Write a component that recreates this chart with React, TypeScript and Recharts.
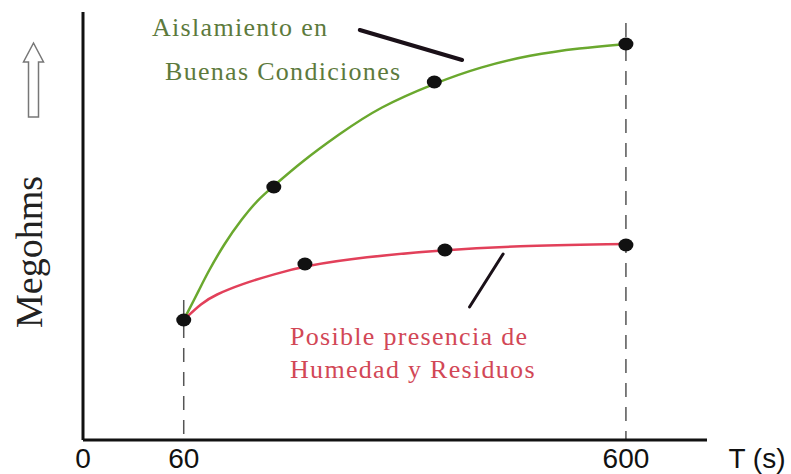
import React from "react";
import {
  ComposedChart,
  Line,
  Scatter,
  XAxis,
  YAxis,
  ReferenceLine,
} from "recharts";

// time axis: the origin of the drawn axis is labelled "0"
const T_ORIGIN = -63;
const T_MAX = 699;
const M_TOP = 428;
const xTicks = [T_ORIGIN, 60, 600];
const xTickLabels = ["0", "60", "600"];

// curve traces (T in s, arbitrary megohm units)
const greenT = [60, 80, 89, 110, 131, 150, 170, 202, 250, 299, 367, 422, 483, 544, 600];
const greenM = [120, 152, 167, 197, 221, 240, 254, 277, 306, 333, 357, 373, 385, 392, 396];
const redT = [60, 82, 98, 131, 171, 208, 279, 379, 462, 600];
const redM = [120, 137, 145, 156, 166, 174, 183, 190, 194, 196];

// black measurement dots
const markT = [60, 170, 366, 600, 208, 379, 600];
const markM = [120, 253, 358, 396, 176, 190, 195];

const greenData = greenT.map((t, i) => ({ t, m: greenM[i] }));
const redData = redT.map((t, i) => ({ t, m: redM[i] }));
const markData = markT.map((t, i) => ({ t, m: markM[i] }));

const GREEN_LINE = "#6aa82e";
const GREEN_TEXT = "#5d7a3c";
const RED_LINE = "#e2405a";
const RED_TEXT = "#d24756";
const SERIF = "'Liberation Serif', 'DejaVu Serif', serif";
const SANS = "'Liberation Sans', Arial, sans-serif";

const XTick = (props: any) => {
  const { x, y, payload } = props;
  const idx = xTicks.indexOf(payload.value);
  return (
    <text
      x={x}
      y={y + 20}
      textAnchor="middle"
      fontFamily={SANS}
      fontSize={28}
      fill="#111"
    >
      {xTickLabels[idx]}
    </text>
  );
};

const Dot = (props: any) => (
  <ellipse cx={props.cx} cy={props.cy} rx={7.5} ry={6.5} fill="#111" />
);

const noteStyle = { fontFamily: SERIF, fontSize: 26, letterSpacing: 1.3 };

export default function App() {
  return (
    <div style={{ position: "absolute", left: 0, top: 0, background: "#fff" }}>
      <ComposedChart
        width={791}
        height={474}
        margin={{ top: 12, right: 84, bottom: 4, left: 83 }}
      >
        <XAxis
          type="number"
          dataKey="t"
          domain={[T_ORIGIN, T_MAX]}
          ticks={xTicks}
          interval={0}
          allowDataOverflow
          tickLine={false}
          tick={<XTick />}
          height={30}
          axisLine={{ stroke: "#111", strokeWidth: 3 }}
        />
        <YAxis type="number" dataKey="m" domain={[0, M_TOP]} hide />
        {/* vertical axis line */}
        <ReferenceLine
          segment={[
            { x: T_ORIGIN, y: 0 },
            { x: T_ORIGIN, y: M_TOP },
          ]}
          stroke="#111"
          strokeWidth={3}
        />
        <ReferenceLine
          segment={[
            { x: 60, y: 140 },
            { x: 60, y: 0 },
          ]}
          stroke="#555"
          strokeWidth={1.5}
          strokeDasharray="14 10"
        />
        <ReferenceLine
          segment={[
            { x: 600, y: 417 },
            { x: 600, y: 0 },
          ]}
          stroke="#555"
          strokeWidth={1.5}
          strokeDasharray="14 10"
        />
        <ReferenceLine
          segment={[
            { x: 275, y: 410 },
            { x: 400, y: 380 },
          ]}
          stroke="#1a1018"
          strokeWidth={4}
          strokeLinecap="round"
        />
        <ReferenceLine
          segment={[
            { x: 409, y: 133 },
            { x: 450, y: 186 },
          ]}
          stroke="#1a1018"
          strokeWidth={3}
          strokeLinecap="round"
        />
        <Line
          data={greenData}
          dataKey="m"
          type="basis"
          stroke={GREEN_LINE}
          strokeWidth={2.5}
          dot={false}
          isAnimationActive={false}
        />
        <Line
          data={redData}
          dataKey="m"
          type="basis"
          stroke={RED_LINE}
          strokeWidth={2.5}
          dot={false}
          isAnimationActive={false}
        />
        <Scatter
          data={markData}
          dataKey="m"
          shape={<Dot />}
          isAnimationActive={false}
        />
        <text x={757} y={468} textAnchor="middle" fontFamily={SANS} fontSize={28} fill="#111">
          T (s)
        </text>
        <text
          x={42}
          y={252}
          textAnchor="middle"
          transform="rotate(-90 42 252)"
          fontFamily={SERIF}
          fontSize={38}
          fill="#222"
        >
          Megohms
        </text>
        <path
          d="M28.5 117 L28.5 62 L23.5 62 L33.5 43 L43.5 62 L38.5 62 L38.5 117 Z"
          fill="#fff"
          stroke="#777"
          strokeWidth={1.5}
        />
        <text x={152} y={36} {...noteStyle} fill={GREEN_TEXT}>
          Aislamiento en
        </text>
        <text x={165} y={80} {...noteStyle} fill={GREEN_TEXT}>
          Buenas Condiciones
        </text>
        <text x={290} y={345} {...noteStyle} fill={RED_TEXT}>
          Posible presencia de
        </text>
        <text x={290} y={378} {...noteStyle} fill={RED_TEXT}>
          Humedad y Residuos
        </text>
      </ComposedChart>
    </div>
  );
}
